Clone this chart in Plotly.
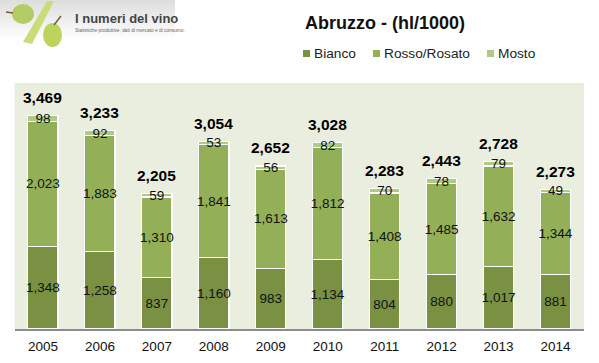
import plotly.graph_objects as go

years = ["2005","2006","2007","2008","2009","2010","2011","2012","2013","2014"]
bianco = [1348,1258,837,1160,983,1134,804,880,1017,881]
rosso = [2023,1883,1310,1841,1613,1812,1408,1485,1632,1344]
mosto = [98,92,59,53,56,82,70,78,79,49]
totals = [3469,3233,2205,3054,2652,3028,2283,2443,2728,2273]
series_names = ["Bianco","Rosso/Rosato","Mosto"]
colors = ["#7A9143","#93B058","#B0C98A"]
FONT = "Liberation Sans"

W, H = 599, 363
fig = go.Figure()
for name, vals, c in zip(series_names, [bianco, rosso, mosto], colors):
    fig.add_trace(go.Bar(
        x=years, y=vals, name=name, showlegend=False,
        marker=dict(color=c, line=dict(color="white", width=1.2)),
        text=[f"{v:,}" for v in vals], textposition="inside",
        insidetextanchor="middle", constraintext="none", textangle=0,
        insidetextfont=dict(family=FONT, size=13.5, color="#111111"),
        cliponaxis=False,
    ))

def px(x): return x / W
def py(y): return 1 - y / H

annotations = [
    dict(x=i, y=t, xref="x", yref="y", text=f"<b>{t:,}</b>", showarrow=False,
         yshift=18, yanchor="middle", xanchor="center",
         font=dict(family=FONT, size=15.5, color="#000000"))
    for i, t in enumerate(totals)
]

shapes = []
# logo gradient band
for i in range(40):
    g = 222 + int(33 * i / 39)
    shapes.append(dict(type="rect", xref="paper", yref="paper",
                       x0=0, x1=px(175), y0=py(i + 1), y1=py(i),
                       fillcolor=f"rgb({g},{g},{g})", line_width=0, layer="below"))
def path(points):
    return "M " + " L ".join(f"{px(a):.4f},{py(b):.4f}" for a, b in points) + " Z"
shapes.append(dict(type="path", xref="paper", yref="paper",
                   path=path([(47,1),(54,1),(32,44),(23,42)]),
                   fillcolor="#C8DC78", line_width=0))
shapes.append(dict(type="circle", xref="paper", yref="paper",
                   x0=px(12), x1=px(34), y0=py(24), y1=py(4),
                   fillcolor="#B4CC64", line_width=0))
shapes.append(dict(type="circle", xref="paper", yref="paper",
                   x0=px(43), x1=px(62), y0=py(47), y1=py(23),
                   fillcolor="#BCD45C", line_width=0))
shapes.append(dict(type="line", xref="paper", yref="paper",
                   x0=px(6), x1=px(13), y0=py(12), y1=py(13),
                   line=dict(color="#7A5A30", width=1.5)))
shapes.append(dict(type="line", xref="paper", yref="paper",
                   x0=px(54), x1=px(61), y0=py(25), y1=py(16),
                   line=dict(color="#7A5A30", width=1.5)))

# legend: small squares with adjacent labels, as in the reference
for name, c, sx in zip(series_names, colors, [303, 373, 487]):
    shapes.append(dict(type="rect", xref="paper", yref="paper",
                       x0=px(sx), x1=px(sx + 7), y0=py(57), y1=py(50),
                       fillcolor=c, line_width=0))
    annotations.append(dict(text=name, x=px(sx + 9), y=py(53), xref="paper", yref="paper",
                            xanchor="left", yanchor="middle", showarrow=False,
                            font=dict(family=FONT, size=13.7, color="#222222")))

annotations += [
    dict(text="<b>Abruzzo - (hl/1000)</b>", x=303 / W, y=py(23), xref="paper", yref="paper",
         xanchor="left", yanchor="middle", showarrow=False,
         font=dict(family=FONT, size=18, color="#111111")),
    dict(text="<b>I numeri del vino</b>", x=73 / W, y=py(18), xref="paper", yref="paper",
         xanchor="left", yanchor="middle", showarrow=False,
         font=dict(family=FONT, size=13, color="#444444")),
    dict(text="Statistiche produttive, dati di mercato e di consumo.", x=73 / W, y=py(30.5), xref="paper", yref="paper",
         xanchor="left", yanchor="middle", showarrow=False,
         font=dict(family=FONT, size=4.8, color="#666666")),
]

fig.update_layout(
    width=W, height=H, autosize=False,
    margin=dict(l=0, r=0, t=0, b=0),
    paper_bgcolor="white", plot_bgcolor="#EAEEDF",
    barmode="stack", bargap=0.47,
    font=dict(family=FONT, color="#222222"),
    shapes=shapes, annotations=annotations, showlegend=False,
    xaxis=dict(type="category", domain=[14.5 / W, 584 / W],
               tickfont=dict(family=FONT, size=13.5, color="#111111"),
               showgrid=False, showline=True, linecolor="#8C8C8C", linewidth=1.5,
               ticks="", ticklabelstandoff=4),
    yaxis=dict(domain=[1 - 329 / H, 1 - 83 / H], range=[0, 4000], visible=False, showgrid=False),
)
fig.write_html("out.html", config=dict(displayModeBar=False),
               post_script="document.body.style.margin='0';document.body.style.overflow='hidden';")
